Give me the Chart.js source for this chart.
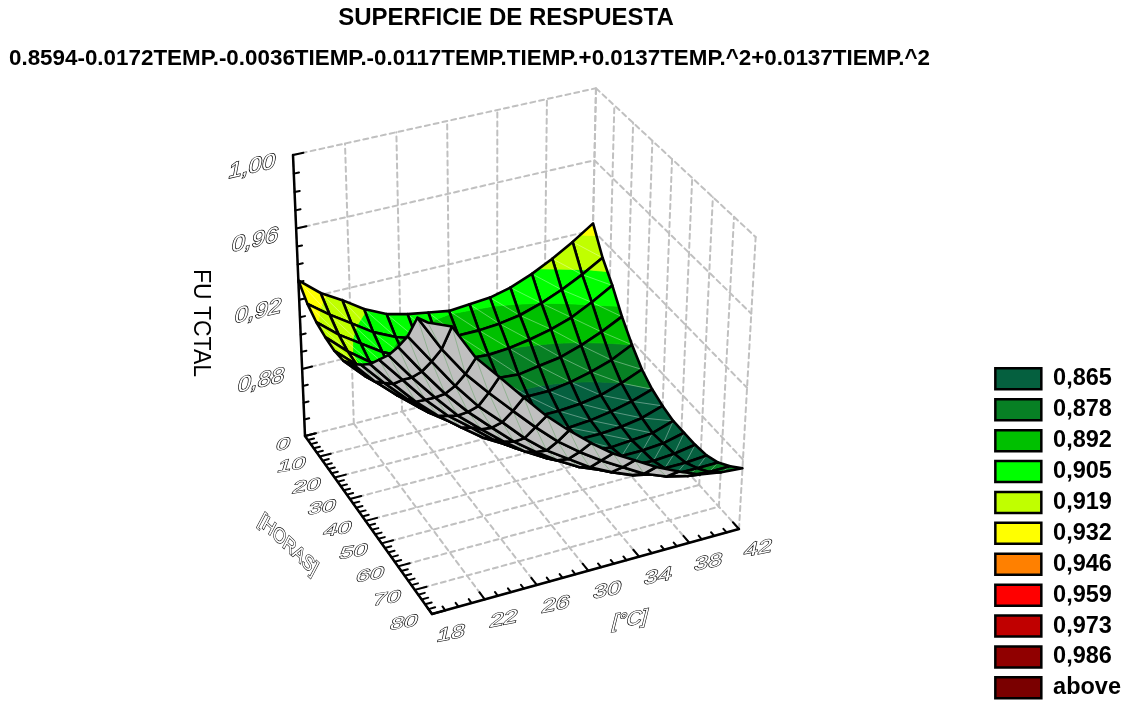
<!DOCTYPE html>
<html>
<head>
<meta charset="utf-8">
<title>Superficie de respuesta</title>
<script src="https://cdn.jsdelivr.net/npm/chart.js@4/dist/chart.umd.min.js"></script>
<style>
  html, body { margin: 0; background: #fff; }
  canvas { display: block; }
</style>
</head>
<body>
<canvas id="chart" width="1132" height="704"></canvas>
<script>
const mainTitle = "SUPERFICIE DE RESPUESTA";
const subTitle = "0.8594-0.0172TEMP.-0.0036TIEMP.-0.0117TEMP.TIEMP.+0.0137TEMP.^2+0.0137TIEMP.^2";

const tempTicks = [18, 22, 26, 30, 34, 38, 42];
const timeTicks = [0, 10, 20, 30, 40, 50, 60, 70, 80];
const zTicks = ["0,88", "0,92", "0,96", "1,00"];

const levelLabels = ["0,865", "0,878", "0,892", "0,905", "0,919", "0,932", "0,946", "0,959", "0,973", "0,986", "above"];
const levelTops = [0.865, 0.878, 0.892, 0.905, 0.919, 0.932, 0.946, 0.959, 0.973, 0.986, 2];
const levelColors = ["#05603f", "#078024", "#00c000", "#00ff00", "#c0ff00", "#ffff00", "#ff8000", "#ff0000", "#c00000", "#900000", "#7a0000"];

// mesh nodes of the surface
const tempNodes = [18, 19.7, 21.4, 23.1, 24.9, 26.6, 28.3, 30, 31.7, 33.4, 35.1, 36.9, 38.6, 40.3, 42];
const timeNodes = [0, 5.7, 11.4, 17.1, 22.9, 28.6, 34.3, 40, 45.7, 51.4, 57.1, 62.9, 68.6, 74.3, 80];

// one row per time node, left to right in temperature
const z00 = [0.931, 0.921, 0.914, 0.906, 0.900, 0.897, 0.895, 0.893, 0.894, 0.895, 0.898, 0.903, 0.909, 0.916, 0.924];
const z01 = [0.924, 0.915, 0.907, 0.899, 0.893, 0.889, 0.886, 0.885, 0.885, 0.886, 0.888, 0.892, 0.897, 0.903, 0.910];
const z02 = [0.920, 0.910, 0.902, 0.894, 0.888, 0.884, 0.880, 0.878, 0.877, 0.878, 0.880, 0.883, 0.887, 0.893, 0.900];
const z03 = [0.918, 0.907, 0.898, 0.890, 0.883, 0.878, 0.874, 0.871, 0.870, 0.869, 0.871, 0.873, 0.877, 0.882, 0.888];
const z04 = [0.917, 0.906, 0.896, 0.887, 0.880, 0.874, 0.869, 0.866, 0.864, 0.863, 0.863, 0.865, 0.868, 0.872, 0.878];
const z05 = [0.918, 0.906, 0.896, 0.886, 0.878, 0.872, 0.866, 0.862, 0.859, 0.858, 0.858, 0.859, 0.861, 0.865, 0.870];
const z06 = [0.923, 0.910, 0.899, 0.889, 0.880, 0.873, 0.867, 0.862, 0.858, 0.856, 0.855, 0.856, 0.858, 0.861, 0.865];
const z07 = [0.929, 0.916, 0.904, 0.893, 0.884, 0.876, 0.869, 0.863, 0.859, 0.856, 0.855, 0.855, 0.856, 0.858, 0.862];
const z08 = [0.936, 0.922, 0.909, 0.898, 0.888, 0.879, 0.872, 0.866, 0.861, 0.857, 0.855, 0.854, 0.855, 0.856, 0.860];
const z09 = [0.945, 0.931, 0.917, 0.905, 0.895, 0.885, 0.877, 0.870, 0.865, 0.861, 0.858, 0.856, 0.856, 0.857, 0.860];
const z10 = [0.954, 0.939, 0.925, 0.912, 0.901, 0.891, 0.882, 0.875, 0.869, 0.864, 0.861, 0.858, 0.857, 0.858, 0.860];
const z11 = [0.965, 0.949, 0.934, 0.921, 0.909, 0.898, 0.889, 0.881, 0.874, 0.869, 0.865, 0.862, 0.860, 0.860, 0.861];
const z12 = [0.977, 0.961, 0.945, 0.931, 0.919, 0.907, 0.897, 0.889, 0.881, 0.875, 0.870, 0.867, 0.864, 0.864, 0.864];
const z13 = [0.993, 0.974, 0.958, 0.945, 0.932, 0.920, 0.909, 0.900, 0.892, 0.885, 0.878, 0.873, 0.870, 0.869, 0.869];
const z14 = [0.997, 0.992, 0.973, 0.960, 0.946, 0.933, 0.922, 0.912, 0.903, 0.896, 0.889, 0.883, 0.878, 0.876, 0.875];
const zRows = [z00, z01, z02, z03, z04, z05, z06, z07, z08, z09, z10, z11, z12, z13, z14];

const zMin = 0.84, zMax = 1.0;
const gridGray = "#c0c0c0";

// box corners on the page, used to set up the perspective
const floorA = [305, 436], floorD = [590, 364], floorC = [739, 529], floorB = [432, 614];
const topA = [293, 155];
const lift = -0.06;

const den = (floorD[0] - floorC[0]) * (floorB[1] - floorC[1]) - (floorB[0] - floorC[0]) * (floorD[1] - floorC[1]);
const sx = floorA[0] - floorD[0] + floorC[0] - floorB[0];
const sy = floorA[1] - floorD[1] + floorC[1] - floorB[1];
const wu = (sx * (floorB[1] - floorC[1]) - (floorB[0] - floorC[0]) * sy) / den;
const wv = ((floorD[0] - floorC[0]) * sy - sx * (floorD[1] - floorC[1])) / den;

function project(temp, time, z) {
    const u = (temp - 18) / 24, v = time / 80, h = (z - zMin) / (zMax - zMin);
    const w = 1 + wu * u + wv * v + lift * h;
    const out = [0, 1].map(n =>
        (floorA[n]
            + (floorD[n] * (1 + wu) - floorA[n]) * u
            + (floorB[n] * (1 + wv) - floorA[n]) * v
            + (topA[n] * (1 + lift) - floorA[n]) * h) / w);
    return { x: out[0], y: out[1] };
}

const painted = [];

function addLine(points, color, width, dash) {
    painted.push({ data: points, borderColor: color, borderWidth: width, borderDash: dash || [], fill: false, pointRadius: 0, tension: 0, clip: false, borderCapStyle: "round", borderJoinStyle: "round" });
}
function addPoly(points, color) {
    painted.push({ data: points.concat([points[0]]), borderColor: color, backgroundColor: color, borderWidth: 0.8, fill: "shape", pointRadius: 0, tension: 0, clip: false });
}

// dashed walls and floor
const dash = [5, 4];
tempTicks.forEach(t => {
    addLine([project(t, 0, zMin), project(t, 80, zMin)], gridGray, 2, dash);
    addLine([project(t, 0, zMin), project(t, 0, zMax)], gridGray, 2, dash);
});
timeTicks.forEach(t => {
    addLine([project(18, t, zMin), project(42, t, zMin)], gridGray, 2, dash);
    addLine([project(42, t, zMin), project(42, t, zMax)], gridGray, 2, dash);
});
[0.88, 0.92, 0.96, 1.0].forEach(z => {
    addLine([project(18, 0, z), project(42, 0, z)], gridGray, 2, dash);
    addLine([project(42, 0, z), project(42, 80, z)], gridGray, 2, dash);
});

// solid axes with their ticks
addLine([project(18, 0, zMin), project(18, 0, zMax)], "#000", 2.5);
addLine([project(18, 0, zMin), project(18, 80, zMin)], "#000", 2.5);
addLine([project(18, 80, zMin), project(42, 80, zMin)], "#000", 2.5);
for (let n = 0; n <= 16; n++) {
    const z = zMin + n * 0.01;
    addLine([project(18, 0, z), project(18 + (n % 4 === 0 ? 0.8 : 0.4), 0, z)], "#000", 2);
}
for (let t = 0; t <= 80; t += 2) {
    addLine([project(18, t, zMin), project(18 + (t % 10 === 0 ? 0.9 : 0.5), t, zMin)], "#000", 2);
}
for (let t = 18; t <= 42; t++) {
    addLine([project(t, 80, zMin), project(t, 80 - ((t - 18) % 4 === 0 ? 3 : 1.6), zMin)], "#000", 2);
}

function clipAbove(poly, level, keepAbove) {
    const out = [];
    poly.forEach((p, n) => {
        const q = poly[(n + 1) % poly.length];
        const pIn = keepAbove ? p[2] >= level : p[2] <= level;
        const qIn = keepAbove ? q[2] >= level : q[2] <= level;
        if (pIn) out.push(p);
        if (pIn !== qIn) {
            const f = (level - p[2]) / (q[2] - p[2]);
            out.push([p[0] + f * (q[0] - p[0]), p[1] + f * (q[1] - p[1]), level]);
        }
    });
    return out;
}

// surface cells, far corner first
for (let j = 0; j < timeNodes.length - 1; j++) {
    for (let i = tempNodes.length - 2; i >= 0; i--) {
        const cell = [[i, j], [i + 1, j], [i + 1, j + 1], [i, j + 1]].map(([a, b]) => [tempNodes[a], timeNodes[b], zRows[b][a]]);
        const outline = cell.map(c => project(c[0], c[1], c[2]));
        let area = 0;
        outline.forEach((p, n) => {
            const q = outline[(n + 1) % 4];
            area += p.x * q.y - q.x * p.y;
        });
        if (area < 0) {
            addPoly(outline, "#c0c0c0");
            addLine([outline[1], outline[3]], "rgba(60,150,60,0.35)", 1);
        } else {
            levelTops.forEach((top, n) => {
                const lo = n === 0 ? -1 : levelTops[n - 1];
                const band = clipAbove(clipAbove(cell, top, false), lo, true);
                if (band.length > 2) addPoly(band.map(c => project(c[0], c[1], c[2])), levelColors[n]);
            });
            if (j >= 8) addLine([outline[1], outline[3]], "rgba(255,255,255,0.35)", 1);
            else addLine([outline[0], outline[2]], "rgba(255,255,255,0.35)", 1);
        }
        addLine(outline.concat([outline[0]]), "#000", 2.6);
    }
}

function skewText(ctx, text, x, y, m, font, hollow) {
    ctx.save();
    ctx.transform(m[0], m[1], m[2], m[3], x, y);
    ctx.font = font;
    ctx.textAlign = "center";
    ctx.textBaseline = "middle";
    if (hollow) {
        ctx.lineWidth = 1.2;
        ctx.strokeStyle = "#000";
        ctx.fillStyle = "#fff";
        ctx.strokeText(text, 0, 0);
        ctx.fillText(text, 0, 0);
    } else {
        ctx.fillStyle = "#000";
        ctx.fillText(text, 0, 0);
    }
    ctx.restore();
}

const boxLabels = {
    id: "boxLabels",
    afterLayout(chart) {
        const a = chart.chartArea, sc = chart.scales;
        sc.x.min = a.left; sc.x.max = a.right; sc.x.configure();
        sc.y.min = a.top; sc.y.max = a.bottom; sc.y.configure();
        chart.boxes.forEach(b => {
            if (b.options && b.options.text === mainTitle) { b.left = 0; b.right = 1012; }
            if (b.options && b.options.text === subTitle) { b.left = 0; b.right = 939; }
        });
        chart.legend.bottom += 7;
        chart.legend.left += 5;
    },
    afterDraw(chart) {
        const ctx = chart.ctx;
        const digit = "20px 'Liberation Sans'";
        zTicks.forEach(label => {
            const p = project(18, 0, parseFloat(label.replace(",", ".")));
            skewText(ctx, label, p.x - 41, p.y + 12, [1.2, -0.28, -0.2, 1.1], digit, true);
        });
        timeTicks.forEach(t => {
            const p = project(18, t, zMin);
            skewText(ctx, String(t), p.x - (t === 0 ? 22 : 28), p.y + 9, [1.25, -0.2, -0.25, 0.85], digit, true);
        });
        tempTicks.forEach(t => {
            const p = project(t, 80, zMin);
            skewText(ctx, String(t), p.x + 19, p.y + 20, [1.25, -0.25, -0.2, 0.95], digit, true);
        });
        skewText(ctx, "FU TCTAL", 200, 323, [0, 1, -1, 0], "23px 'Liberation Sans'", false);
        skewText(ctx, "[HORAS]", 288, 545, [0.68, 0.64, -0.45, 0.85], digit, true);
        skewText(ctx, "[°C]", 630, 620, [1.05, -0.17, -0.25, 1], digit, true);
    }
};

new Chart(document.getElementById("chart"), {
    type: "line",
    data: { datasets: painted.slice().reverse() },
    plugins: [boxLabels],
    options: {
        responsive: false,
        animation: false,
        events: [],
        parsing: false,
        normalized: false,
        layout: { padding: { bottom: 4, right: 6 } },
        scales: {
            x: { type: "linear", display: false, min: 0, max: 1132 },
            y: { type: "linear", display: false, min: 0, max: 704, reverse: true }
        },
        plugins: {
            tooltip: { enabled: false },
            title: { display: true, text: mainTitle, color: "#000", font: { family: "'Liberation Sans'", size: 24, weight: "bold" }, padding: { top: 4, bottom: 6 } },
            subtitle: { display: true, text: subTitle, color: "#000", font: { family: "'Liberation Sans'", size: 22.4, weight: "bold" }, padding: { top: 7, bottom: 10 } },
            legend: {
                position: "right",
                align: "end",
                labels: {
                    boxWidth: 46,
                    boxHeight: 21,
                    padding: 7.4,
                    color: "#000",
                    font: { family: "'Liberation Sans'", size: 23.5, weight: "bold" },
                    generateLabels: () => levelLabels.map((text, n) => ({ text, fillStyle: levelColors[n], strokeStyle: "#000", lineWidth: 2.5, hidden: false, index: n }))
                }
            }
        }
    }
});
</script>
</body>
</html>
